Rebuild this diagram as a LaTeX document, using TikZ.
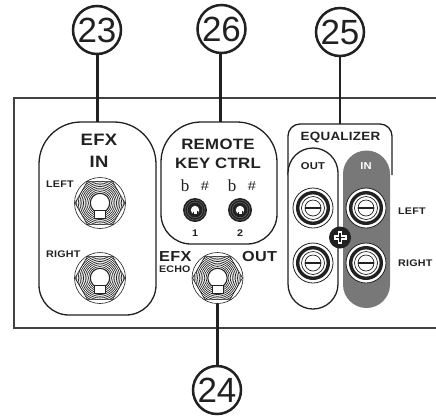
\documentclass[tikz,border=0pt]{standalone}
\usepackage{fontspec}
\setmainfont{Liberation Sans}
\newfontfamily\wideb[FakeStretch=1.12,LetterSpace=2]{Liberation Sans}
\newfontfamily\serifb{Liberation Serif}
\definecolor{ink}{gray}{0.13}
\definecolor{padgray}{gray}{0.47}
\tikzset{x=1pt,y=1pt,
 lead/.style={line width=3pt,draw=ink},
 frame/.style={draw=ink!85,line width=1.4pt},
 num/.style={circle,draw=ink,line width=2.5pt,minimum size=48pt,inner sep=0pt,font=\fontsize{35}{35}\selectfont,text=ink},
 panel/.style={draw=ink,line width=1.3pt,fill=white},
 lab/.style={font=\wideb\bfseries\fontsize{9.6}{10}\selectfont,inner sep=0pt,text=ink},
 head/.style={font=\wideb\bfseries\fontsize{15}{19}\selectfont,inner sep=0pt,text=ink,align=center},
 subhead/.style={font=\wideb\bfseries\fontsize{10}{12}\selectfont,inner sep=0pt,text=ink},
 accid/.style={font=\serifb\fontsize{17}{17}\selectfont,inner sep=0pt,text=ink}}
% left top right bottom topradius bottomradius
\newcommand{\roundpanel}[6]{({#1+#5},#2) -- ({#3-#5},#2) arc[start angle=-90,end angle=0,radius=#5] -- (#3,{#4-#6}) arc[start angle=0,end angle=90,radius=#6] -- ({#1+#6},#4) arc[start angle=90,end angle=180,radius=#6] -- (#1,{#2+#5}) arc[start angle=180,end angle=270,radius=#5] -- cycle}
\newcommand{\bigjack}[2]{%
 \begin{scope}[shift={(#1,#2)}]
  \draw[ink,line width=.6pt,fill=white] (0,0) circle (25.5);
  \draw[ink,line width=.6pt] (25,0) -- (12.5,21.65) -- (-12.5,21.65) -- (-25,0) -- (-12.5,-21.65) -- (12.5,-21.65) -- cycle;
  \begin{scope}
   \clip (25,0) -- (12.5,21.65) -- (-12.5,21.65) -- (-25,0) -- (-12.5,-21.65) -- (12.5,-21.65) -- cycle;
   \foreach \r in {11.5,13.2,...,25.5}{\draw[ink,line width=.65pt] (0,0) circle (\r);}
  \end{scope}
  \draw[ink,line width=1.1pt,fill=white] (0,0) circle (9.7);
  \draw[ink,line width=.7pt,fill=white] (-5.5,7) rectangle (5.5,15);
  \fill[white] (-4.9,3) rectangle (4.9,7.4);
 \end{scope}}
\newcommand{\smalljack}[2]{%
 \begin{scope}[shift={(#1,#2)}]
  \fill[ink] (0,0) circle (12);
  \draw[gray,line width=.35pt] (0,0) circle (10);
  \draw[gray,line width=.35pt] (0,0) circle (7.8);
  \draw[ink,line width=.5pt,fill=white] (0,0) circle (4.6);
  \draw[ink,line width=.4pt,fill=white] (-2.2,1.4) rectangle (2.2,4.6);
  \fill[white] (-1.9,.6) rectangle (1.9,1.7);
 \end{scope}}
\newcommand{\rca}[2]{%
 \begin{scope}[shift={(#1,#2)}]
  \draw[ink,line width=.8pt,fill=white] (0,0) circle (20);
  \draw[ink,line width=3.4pt,fill=white] (0,0) circle (15.3);
  \draw[ink,line width=.7pt,fill=white] (0,0) circle (11.5);
  \draw[ink,line width=.7pt] (0,0) circle (8);
  \draw[ink,line width=1.1pt] (-8,0) -- (8,0);
 \end{scope}}
\begin{document}
\begin{tikzpicture}[yscale=-1]
\useasboundingbox (0,0) rectangle (436,416);
\draw[frame] (436,98) -- (14,98) -- (14,328) -- (436,328);
\node[num] (n23) at (97,30) {23};
\node[num] (n26) at (221.5,29) {26};
\node[num] (n25) at (340,32) {25};
\node[num] (n24) at (217,390) {24};
\coordinate (pa) at (97,122);
\coordinate (pb) at (220,122);
\coordinate (pc) at (340,124);
\coordinate (jc) at (217.5,303);
\draw[lead] (n23) -- (pa);
\draw[lead] (n26.south -| pb) -- (pb);
\draw[lead,line width=2.6pt] (n25) -- (pc);
\draw[lead] (n24.north -| jc) -- (jc);
% panels
\draw[panel] \roundpanel{39}{122}{156}{315}{42}{30};
\draw[panel] \roundpanel{161}{122}{277}{244}{40}{30};
\draw[panel,fill=none,rounded corners=12pt] (288,175) -- (288,124) -- (392,124) -- (392,175);
\draw[panel] (288,173) arc[start angle=180,end angle=360,radius=25,y radius=25] -- (338,284) arc[start angle=0,end angle=180,radius=25] -- cycle;
\fill[padgray] (343,174) arc[start angle=180,end angle=360,radius=23.5] -- (390,284.5) arc[start angle=0,end angle=180,radius=23.5] -- cycle;
% jacks
\bigjack{100}{203}
\bigjack{100}{278}
\bigjack{217.5}{278}
\smalljack{195}{210}
\smalljack{240}{210}
\rca{313}{208}
\rca{313}{263}
\rca{366}{208}
\rca{366}{263}
% screw
\fill[ink] (340,237.5) circle (11);
\draw[white,line width=4.6pt] (333.5,237.5) -- (346.5,237.5) (340,231) -- (340,244);
\draw[ink,line width=1.6pt] (335.5,237.5) -- (344.5,237.5) (340,233) -- (340,242);
% text
\node[head,font=\wideb\bfseries\fontsize{16.5}{19}\selectfont] (t1) at (99,151) {EFX\\[3pt]IN};
\node[head] (t2) at (218,153.5) {REMOTE\\KEY CTRL};
\node[font=\wideb\bfseries\fontsize{12}{12}\selectfont,inner sep=0pt,text=ink] (t3) at (340.5,137) {EQUALIZER};
\node[subhead] (t4) at (313,166) {OUT};
\node[subhead,text=white] (t5) at (366,166) {IN};
\node[lab,anchor=west] (t6) at (46,184) {LEFT};
\node[lab,anchor=west] (t7) at (46,254) {RIGHT};
\node[lab,anchor=west] (t8) at (398,211) {LEFT};
\node[lab,anchor=west] (t9) at (398,263) {RIGHT};
\node[head,anchor=west,font=\wideb\bfseries\fontsize{14.5}{15}\selectfont] (t10) at (159,257) {EFX};
\node[subhead,anchor=west,font=\wideb\bfseries\fontsize{9.5}{10}\selectfont] (t11) at (159,269) {ECHO};
\node[head,anchor=west,font=\wideb\bfseries\fontsize{14.5}{15}\selectfont] (t12) at (242,257) {OUT};
\node[accid] (b1) at (185,186) {b};
\node[accid,font=\wideb\fontsize{13}{13}\selectfont] (s1) at (205,186) {\#};
\node[accid] (b2) at (232,186) {b};
\node[accid,font=\wideb\fontsize{13}{13}\selectfont] (s2) at (252,186) {\#};
\node[lab] (c1) at (195,233) {1};
\node[lab] (c2) at (240,233) {2};
\end{tikzpicture}
\end{document}
